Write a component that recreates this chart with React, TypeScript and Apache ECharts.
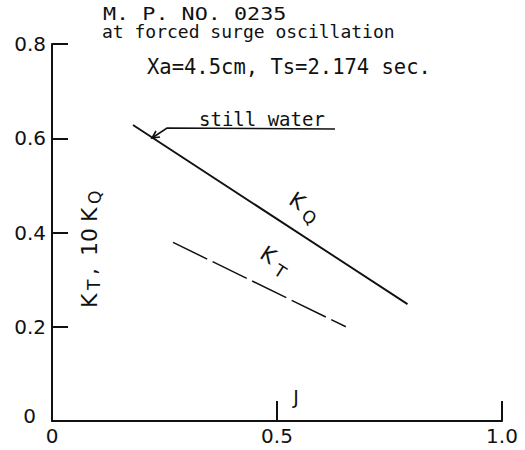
import React, { useEffect, useRef } from "react";
import * as echarts from "echarts";

// Advance coefficient J (x) and coefficient values (y) for each curve
const kqJ = [0.18, 0.79];
const kqValues = [0.628, 0.248];
const ktJ = [0.269, 0.653];
const ktValues = [0.379, 0.2];

// Axis ranges and tick steps
const xMin = 0;
const xMax = 1.0;
const xStep = 0.5;
const yMin = 0;
const yMax = 0.8;
const yStep = 0.2;

// Header lines
const headerLines = [
  "M. P. NO. 0235",
  "at forced surge oscillation",
  "Xa=4.5cm, Ts=2.174 sec.",
];

const INK = "#111";
const SANS = "DejaVu Sans";
const MONO = "DejaVu Sans Mono";

const toPairs = (xs: number[], ys: number[]) => xs.map((x, i) => [x, ys[i]]);

export default function App() {
  const ref = useRef<HTMLDivElement>(null);

  useEffect(() => {
    if (!ref.current) return;
    const chart = echarts.init(ref.current, null, { renderer: "svg" });

    const subscriptLabel = (
      x: number,
      y: number,
      rotation: number,
      main: string,
      sub: string
    ) => ({
      type: "group",
      x,
      y,
      rotation,
      children: [
        {
          type: "text",
          x: 0,
          y: 0,
          style: {
            text: main,
            fontFamily: SANS,
            fontSize: 21,
            fill: INK,
            align: "center",
            verticalAlign: "middle",
          },
        },
        {
          type: "text",
          x: 19,
          y: 7,
          style: {
            text: sub,
            fontFamily: SANS,
            fontSize: 17,
            fill: INK,
            align: "center",
            verticalAlign: "middle",
          },
        },
      ],
    });

    const yTitlePart = (x: number, y: number, text: string, size: number) => ({
      type: "text",
      x,
      y,
      style: {
        text,
        fontFamily: SANS,
        fontSize: size,
        fill: INK,
        align: "left",
        verticalAlign: "middle",
      },
    });

    chart.setOption({
      animation: false,
      backgroundColor: "#fff",
      grid: {
        left: 52,
        right: 23,
        top: 44,
        bottom: 29,
        containLabel: false,
        outerBoundsMode: "none",
      },
      xAxis: {
        type: "value",
        min: xMin,
        max: xMax,
        interval: xStep,
        axisLine: { show: true, onZero: false, lineStyle: { color: INK, width: 2 } },
        axisTick: { show: true, inside: true, length: 20, lineStyle: { color: INK, width: 2 } },
        splitLine: { show: false },
        axisLabel: {
          color: INK,
          fontFamily: SANS,
          fontSize: 20,
          margin: 5,
          formatter: (v: number) => (v === 0 ? "0" : v.toFixed(1)),
        },
      },
      yAxis: {
        type: "value",
        min: yMin,
        max: yMax,
        interval: yStep,
        axisLine: { show: true, onZero: false, lineStyle: { color: INK, width: 2 } },
        axisTick: { show: true, inside: true, length: 16, lineStyle: { color: INK, width: 2 } },
        splitLine: { show: false },
        axisLabel: {
          color: INK,
          fontFamily: SANS,
          fontSize: 20,
          margin: 6,
          formatter: (v: number) => (v === 0 ? "{z|0}" : v.toFixed(1)),
          rich: {
            z: {
              color: INK,
              fontFamily: SANS,
              fontSize: 20,
              padding: [0, 10, 10, 0],
            },
          },
        },
      },
      series: [
        {
          name: "KQ",
          type: "line",
          data: toPairs(kqJ, kqValues),
          showSymbol: false,
          lineStyle: { color: INK, width: 1.9 },
        },
        {
          name: "KT",
          type: "line",
          data: toPairs(ktJ, ktValues),
          showSymbol: false,
          lineStyle: { color: INK, width: 1.5, type: [38, 6] },
        },
      ],
      graphic: [
        {
          type: "text",
          x: 103,
          y: 14,
          scaleX: 1.28,
          style: {
            text: headerLines[0],
            fontFamily: MONO,
            fontSize: 17,
            fill: INK,
            align: "left",
            verticalAlign: "middle",
          },
        },
        {
          type: "text",
          x: 102,
          y: 31,
          style: {
            text: headerLines[1],
            fontFamily: MONO,
            fontSize: 18,
            fill: INK,
            align: "left",
            verticalAlign: "middle",
          },
        },
        {
          type: "text",
          x: 147,
          y: 67,
          style: {
            text: headerLines[2],
            fontFamily: MONO,
            fontSize: 20.5,
            fill: INK,
            align: "left",
            verticalAlign: "middle",
          },
        },
        // "still water" note with leader and arrow onto the KQ curve
        {
          type: "text",
          x: 199,
          y: 119,
          style: {
            text: "still water",
            fontFamily: MONO,
            fontSize: 19,
            fill: INK,
            align: "left",
            verticalAlign: "middle",
          },
        },
        {
          type: "polyline",
          shape: { points: [[335, 129], [167, 128], [152, 138]] },
          style: { stroke: INK, lineWidth: 1.6, fill: "none" },
        },
        {
          type: "polyline",
          shape: { points: [[160, 137], [152, 138], [156, 131]] },
          style: { stroke: INK, lineWidth: 1.6, fill: "none" },
        },
        // Curve labels
        subscriptLabel(297, 201, -0.57, "K", "Q"),
        subscriptLabel(268, 255, -0.57, "K", "T"),
        // Vertical axis title
        {
          type: "group",
          x: 89,
          y: 308,
          rotation: Math.PI / 2,
          children: [
            yTitlePart(0, 0, "K", 22),
            yTitlePart(18, 5, "T", 17),
            yTitlePart(33, 0, ",", 22),
            yTitlePart(52, 0, "10", 22),
            yTitlePart(86, 0, "K", 22),
            yTitlePart(104, 6, "Q", 17),
          ],
        },
        {
          type: "text",
          x: 296,
          y: 397,
          style: {
            text: "J",
            fontFamily: SANS,
            fontSize: 19,
            fill: INK,
            align: "center",
            verticalAlign: "middle",
          },
        },
      ],
    });

    return () => chart.dispose();
  }, []);

  return (
    <div
      ref={ref}
      style={{
        position: "absolute",
        left: 0,
        top: 0,
        width: 525,
        height: 450,
        background: "#fff",
      }}
    />
  );
}
